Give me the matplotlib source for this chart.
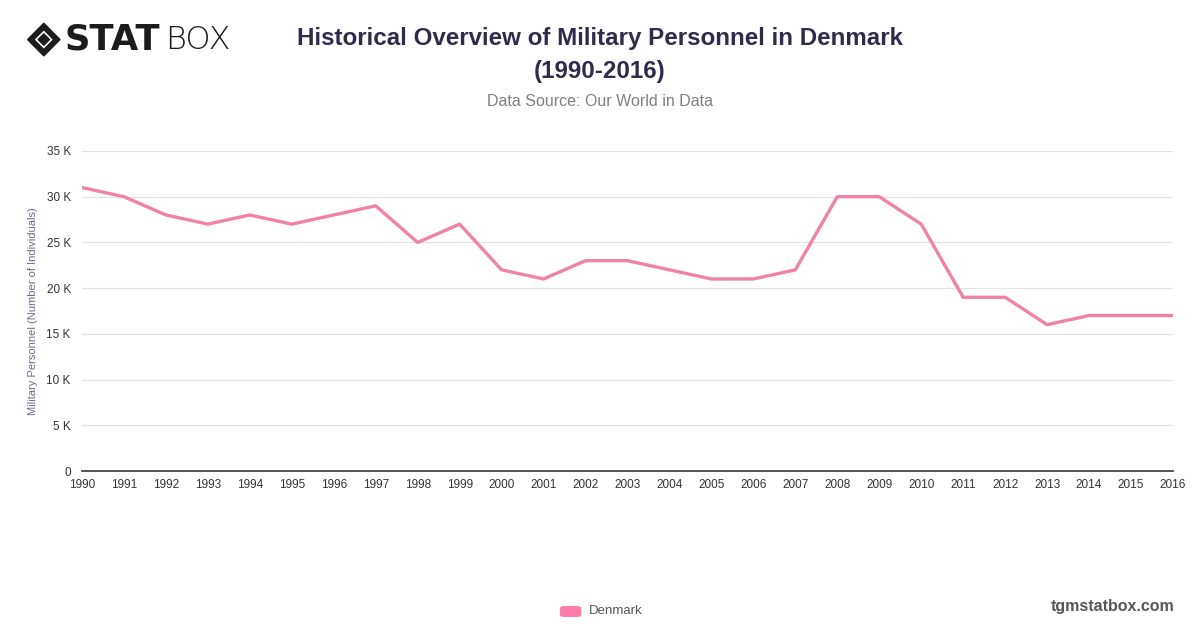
import matplotlib
matplotlib.use("Agg")
from matplotlib import pyplot as plt
from matplotlib.patches import Polygon, FancyBboxPatch
from matplotlib.ticker import FuncFormatter, MultipleLocator

years = list(range(1990, 2017))
personnel = [31000, 30000, 28000, 27000, 28000, 27000, 28000, 29000, 25000, 27000,
             22000, 21000, 23000, 23000, 22000, 21000, 21000, 22000, 30000, 30000,
             27000, 19000, 19000, 16000, 17000, 17000, 17000]
series_name = "Denmark"

plt.rcParams['font.family'] = ['Liberation Sans', 'DejaVu Sans']

fig = plt.figure(figsize=(12, 6.28), dpi=100)
ax = fig.add_axes([0.0683, 0.25, 0.9092, 0.5096])

line_color = "#F082AA"
ax.plot(years, personnel, color=line_color, lw=2.4, solid_joinstyle="round")

ax.set_xlim(1990, 2016)
ax.set_ylim(0, 35000)
ax.yaxis.set_major_locator(MultipleLocator(5000))
ax.yaxis.set_major_formatter(FuncFormatter(lambda v, p: "0" if v == 0 else f"{int(v/1000)} K"))
ax.set_xticks(years)
ax.set_xticklabels([str(y) for y in years])
ax.grid(axis="y", color="#e3e3e3", lw=0.9)
ax.set_axisbelow(True)
for s in ["top", "right", "left"]:
    ax.spines[s].set_visible(False)
ax.spines["bottom"].set_color("#333333")
ax.spines["bottom"].set_linewidth(1.2)
ax.tick_params(axis="y", length=0, pad=8, labelsize=8.5, labelcolor="#333333")
ax.tick_params(axis="x", length=0, pad=6, labelsize=8.5, labelcolor="#333333")
ax.set_ylabel("Military Personnel (Number of Individuals)", fontsize=8, color="#6b6b8f", labelpad=6)

# title
fig.text(0.5, 0.938, "Historical Overview of Military Personnel in Denmark", ha="center", va="center",
         fontsize=17.4, fontweight="bold", color="#2f2b4d")
fig.text(0.5, 0.886, "(1990-2016)", ha="center", va="center",
         fontsize=17.4, fontweight="bold", color="#2f2b4d")
fig.text(0.5, 0.838, "Data Source: Our World in Data", ha="center", va="center",
         fontsize=11.5, color="#808080")

# logo
cx, cy = 0.0365, 0.937
dx, dy = 0.0135, 0.026
fig.add_artist(Polygon([[cx - dx, cy], [cx, cy + dy], [cx + dx, cy], [cx, cy - dy]],
                       closed=True, transform=fig.transFigure, color="#1c1c1c"))
fig.add_artist(Polygon([[cx - dx * 0.55, cy], [cx, cy + dy * 0.55], [cx + dx * 0.55, cy], [cx, cy - dy * 0.55]],
                       closed=True, transform=fig.transFigure, facecolor="white", edgecolor="none"))
fig.add_artist(Polygon([[cx - dx * 0.35, cy], [cx, cy + dy * 0.35], [cx + dx * 0.35, cy], [cx, cy - dy * 0.35]],
                       closed=True, transform=fig.transFigure, color="#1c1c1c"))
fig.text(0.054, 0.937, "STAT", ha="left", va="center", fontsize=25.5, fontweight="black",
         color="#1c1c1c", family="DejaVu Sans")
fig.text(0.1375, 0.937, "BOX", ha="left", va="center", fontsize=23, fontweight="light",
         color="#1c1c1c", family="DejaVu Sans")

# legend
fig.add_artist(FancyBboxPatch((0.4665, 0.0175), 0.018, 0.0175, boxstyle="round,pad=0,rounding_size=0.004",
                              transform=fig.transFigure, facecolor="#FF7BAC", edgecolor="none"))
fig.text(0.4905, 0.027, series_name, ha="left", va="center", fontsize=9.5, color="#555555")

fig.text(0.979, 0.034, "tgmstatbox.com", ha="right", va="center", fontsize=11.5,
         fontweight="bold", color="#555555")

fig.savefig("out.png", dpi=100)
